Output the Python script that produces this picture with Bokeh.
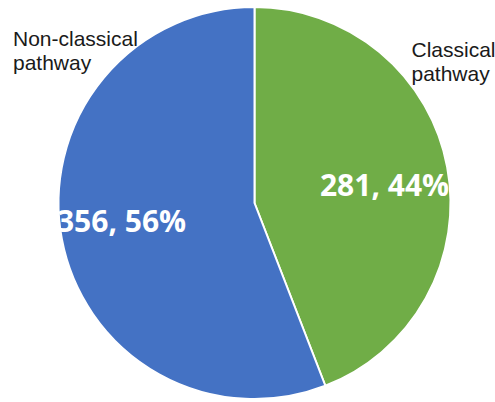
from bokeh.plotting import figure
from bokeh.embed import file_html
from bokeh.resources import INLINE
from bokeh.core.properties import value
import numpy as np

# Data
categories = ["Classical\npathway", "Non-classical\npathway"]
counts = [281, 356]
percents = [44, 56]
colors = ["#70AD47", "#4472C4"]

W, H = 495, 402
p = figure(width=W, height=H, x_range=(0, W), y_range=(0, H),
           output_backend="svg", toolbar_location=None, min_border=0)
p.axis.visible = False
p.grid.visible = False
p.outline_line_color = None
p.background_fill_color = "white"
p.border_fill_color = "white"

cx, cy, r = 254, 199.5, 196
total = sum(counts)
fracs = np.array(counts) / total
ends = np.pi / 2 - np.concatenate([[0], np.cumsum(fracs)[:-1]]) * 2 * np.pi
starts = ends - fracs * 2 * np.pi

p.wedge(x=[cx] * len(counts), y=[cy] * len(counts), radius=r,
        start_angle=list(starts), end_angle=list(ends),
        fill_color=colors, line_color="white", line_width=2)

# data labels
lbl = [f"{c}, {pc}%" for c, pc in zip(counts, percents)]
lx = [384, 121]
ly = [218, 182]
p.text(x=lx, y=ly, text=lbl, text_color="white", text_font=value("Open Sans"),
       text_font_style="bold", text_font_size="30px", text_align="center",
       text_baseline="alphabetic")

# category labels
cat_x = [411, 12.5]
cat_y = [353, 364]
for name, x0, y0 in zip(categories, cat_x, cat_y):
    for i, line in enumerate(name.split("\n")):
        p.text(x=[x0], y=[y0 - i * 23.5], text=[line], text_color="#1a1a1a",
               text_font=value("Liberation Sans"), text_font_size="21px",
               text_align="left", text_baseline="alphabetic")

open("out.html", "w").write(file_html(p, INLINE))
